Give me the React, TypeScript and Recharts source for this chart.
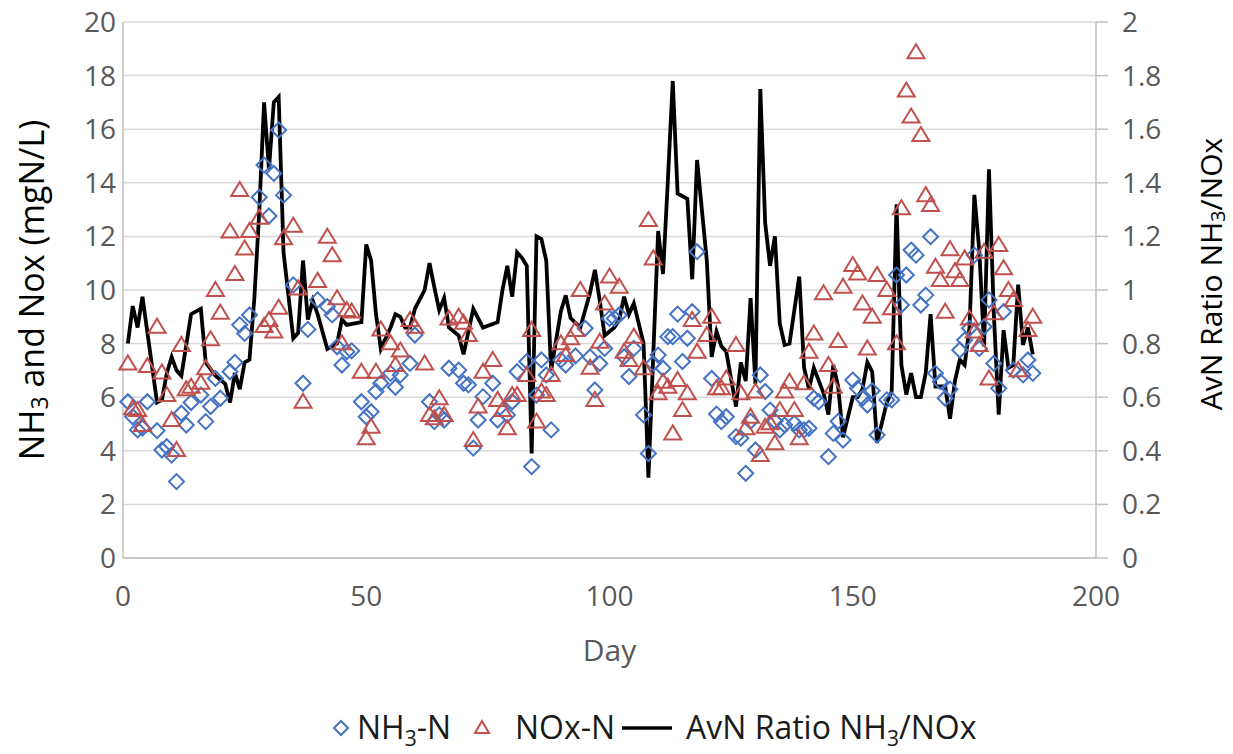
import React from 'react'
import { ComposedChart, Scatter, Line, XAxis, YAxis, CartesianGrid, Legend } from 'recharts'

// NH3-N (mgN/L)
const nh3Days = [
  1, 2, 3, 4, 5, 7, 8, 9, 10, 11, 12, 13, 14, 16, 17, 18, 19, 20, 22, 23, 24, 25, 26, 28, 29, 30, 31, 32, 33, 35,
  37, 38, 40, 42, 43, 44, 45, 46, 47, 49, 50, 51, 52, 53, 55, 56, 57, 59, 60, 63, 64, 65, 66, 67, 69, 70, 71, 72,
  73, 74, 76, 77, 79, 80, 81, 83, 84, 85, 86, 87, 88, 90, 91, 93, 95, 96, 97, 98, 99, 100, 101, 102, 103, 104, 105,
  107, 108, 109, 110, 111, 112, 113, 114, 115, 116, 117, 118, 121, 122, 123, 124, 126, 127, 128, 129, 130, 131, 132,
  133, 134, 135, 136, 138, 139, 140, 141, 142, 143, 145, 146, 147, 148, 150, 151, 152, 153, 154, 155, 157, 158, 159,
  160, 161, 162, 163, 164, 165, 166, 167, 168, 169, 170, 172, 173, 174, 175, 176, 177, 178, 179, 180, 181, 183, 185,
  186, 187,
]
const nh3Values = [
  5.83, 5.27, 4.78, 4.85, 5.83, 4.75, 4.03, 4.15, 3.84, 2.85, 5.4, 4.96, 5.8, 6.08, 5.09, 5.65, 6.7, 5.96, 6.95, 7.3,
  8.7, 8.38, 9.07, 13.46, 14.66, 12.76, 14.35, 15.97, 13.54, 10.19, 6.52, 8.53, 9.63, 9.38, 9.07, 7.88, 7.2, 7.7,
  7.73, 5.83, 5.27, 5.46, 6.21, 6.52, 6.89, 6.37, 6.83, 7.26, 8.32, 5.83, 5.09, 5.34, 5.15, 7.08, 7.01, 6.52, 6.46,
  4.1, 5.15, 6.02, 6.52, 5.15, 5.34, 5.83, 6.95, 7.33, 3.41, 6.08, 7.39, 6.83, 4.78, 7.39, 7.2, 7.54, 8.57, 7.5,
  6.27, 7.26, 7.82, 8.94, 8.94, 9.07, 7.51, 6.77, 7.82, 5.34, 3.9, 7.26, 7.57, 7.08, 8.26, 8.26, 9.1, 7.33, 8.2,
  9.19, 11.43, 6.7, 5.37, 5.09, 5.27, 4.53, 4.47, 3.16, 5.1, 4.03, 6.83, 6.21, 5.52, 5.1, 4.78, 4.96, 5.03, 4.78,
  4.78, 4.84, 5.96, 5.83, 3.78, 4.65, 5.1, 4.4, 6.64, 6.33, 5.96, 5.71, 6.24, 4.59, 5.9, 5.9, 10.56, 9.44, 10.56,
  11.49, 11.3, 9.44, 9.81, 11.99, 6.89, 6.58, 5.96, 6.3, 7.76, 8.13, 8.57, 11.3, 7.82, 8.63, 9.63, 7.26, 6.33, 9.19,
  7.01, 6.83, 7.39, 6.89,
]

// NOx-N (mgN/L)
const noxDays = [
  1, 2, 3, 4, 5, 7, 8, 9, 10, 11, 12, 13, 14, 16, 17, 18, 19, 20, 22, 23, 24, 25, 26, 28, 29, 30, 31, 32, 33, 35,
  36, 37, 40, 42, 43, 44, 45, 46, 47, 49, 50, 51, 52, 53, 55, 56, 57, 59, 60, 62, 63, 64, 65, 66, 67, 69, 70, 71,
  72, 73, 74, 76, 77, 78, 79, 80, 81, 83, 84, 85, 86, 87, 88, 90, 91, 92, 93, 94, 96, 97, 98, 99, 100, 102, 103,
  104, 105, 107, 108, 109, 110, 111, 112, 113, 114, 115, 116, 117, 118, 120, 121, 122, 123, 124, 126, 127, 128, 129,
  130, 131, 132, 133, 134, 135, 136, 137, 138, 139, 140, 141, 142, 144, 145, 146, 147, 148, 150, 151, 152, 153, 154,
  155, 157, 158, 159, 160, 161, 162, 163, 164, 165, 166, 167, 168, 169, 170, 171, 172, 173, 174, 175, 176, 177, 178,
  179, 180, 181, 182, 183, 184, 186, 187,
]
const noxValues = [
  7.26, 5.59, 5.52, 4.96, 7.16, 8.63, 6.92, 6.08, 5.15, 4.03, 7.95, 6.3, 6.39, 6.54, 7.08, 8.16, 10.0, 9.15, 12.18,
  10.6, 13.73, 11.55, 12.2, 12.7, 8.66, 8.88, 8.45, 9.34, 11.93, 12.4, 10.06, 5.83, 10.34, 11.99, 11.3, 9.69, 8.01,
  9.25, 9.2, 6.95, 4.47, 4.9, 6.95, 8.53, 8.01, 7.2, 7.74, 8.88, 8.63, 7.26, 5.34, 5.21, 5.96, 5.34, 8.94, 9.0, 8.78,
  8.32, 4.4, 5.65, 6.95, 7.39, 5.9, 5.52, 4.84, 6.08, 6.08, 6.83, 8.51, 5.09, 6.21, 6.08, 6.83, 8.01, 7.57, 8.2,
  8.51, 10.0, 7.1, 5.9, 8.07, 9.5, 10.5, 10.12, 7.7, 7.39, 8.26, 7.08, 12.61, 11.18, 6.15, 6.58, 6.39, 4.65, 6.64,
  5.52, 6.15, 8.88, 7.7, 8.32, 9.0, 6.33, 6.33, 6.7, 7.95, 6.15, 4.84, 5.27, 6.21, 3.84, 4.9, 5.03, 4.28, 5.52, 6.21,
  6.58, 5.52, 4.47, 6.52, 7.7, 8.38, 9.88, 7.2, 6.39, 8.1, 10.12, 10.93, 10.62, 9.5, 7.82, 9.0, 10.56, 10.0, 9.32,
  8.01, 13.05, 17.44, 16.47, 18.87, 15.78, 13.54, 13.17, 10.87, 10.37, 9.19, 11.52, 10.7, 10.37, 11.18, 8.94, 8.45,
  7.95, 11.43, 6.7, 9.13, 11.68, 10.81, 10.0, 9.63, 7.01, 8.51, 9.0,
]

// AvN Ratio NH3/NOx
const ratioDays = [
  1, 2, 3, 4, 7, 8, 9, 10, 11, 12, 14, 16, 17, 19, 21, 22, 23, 24, 25, 26, 27, 28, 29, 30, 31, 32, 33, 35, 36, 37,
  38, 39, 40, 42, 44, 45, 46, 49, 50, 51, 52, 53, 55, 56, 57, 58, 59, 60, 62, 63, 64, 65, 66, 67, 69, 70, 72, 74,
  77, 78, 79, 80, 81, 82, 83, 84, 85, 86, 87, 88, 90, 91, 92, 94, 96, 97, 98, 99, 101, 102, 103, 104, 105, 107, 108,
  110, 111, 112, 113, 114, 116, 117, 118, 120, 121, 122, 123, 124, 126, 127, 128, 129, 130, 131, 132, 133, 134, 135,
  136, 137, 139, 140, 141, 142, 144, 145, 146, 147, 148, 150, 151, 152, 153, 154, 155, 157, 158, 159, 160, 161, 162,
  163, 164, 165, 166, 167, 169, 170, 171, 172, 173, 174, 175, 176, 177, 178, 179, 180, 181, 182, 183, 184, 185, 186,
  187,
]
const ratioValues = [
  0.8, 0.94, 0.86, 0.975, 0.58, 0.59, 0.69, 0.75, 0.7, 0.68, 0.91, 0.93, 0.73, 0.68, 0.65, 0.58, 0.69, 0.63, 0.73,
  0.74, 0.97, 1.29, 1.7, 1.45, 1.7, 1.72, 1.14, 0.82, 0.84, 1.11, 0.89, 0.96, 0.91, 0.78, 0.8, 0.89, 0.87, 0.88,
  1.17, 1.11, 0.91, 0.78, 0.86, 0.91, 0.9, 0.86, 0.86, 0.93, 1.0, 1.1, 1.01, 0.925, 0.97, 0.86, 0.83, 0.76, 0.93,
  0.86, 0.88, 1.0, 1.09, 0.975, 1.14, 1.12, 1.09, 0.39, 1.2, 1.19, 1.11, 0.7, 0.92, 0.98, 0.895, 0.86, 0.99, 1.075,
  0.96, 0.83, 0.86, 0.89, 0.975, 0.91, 0.95, 0.8, 0.3, 1.22, 1.06, 1.41, 1.78, 1.36, 1.34, 1.04, 1.485, 1.11, 0.75,
  0.845, 0.79, 0.77, 0.565, 0.73, 0.66, 0.97, 0.65, 1.75, 1.25, 1.09, 1.2, 0.875, 0.795, 0.8, 1.05, 0.71, 0.63, 0.71,
  0.615, 0.535, 0.72, 0.64, 0.45, 0.6, 0.6, 0.63, 0.73, 0.695, 0.43, 0.58, 0.62, 1.32, 0.72, 0.61, 0.69, 0.6, 0.6,
  0.69, 0.91, 0.64, 0.64, 0.52, 0.66, 0.74, 0.72, 0.86, 1.355, 1.15, 0.79, 1.45, 0.91, 0.535, 0.85, 0.71, 0.72, 1.02,
  0.795, 0.86, 0.76,
]

const dayTicks = [0, 50, 100, 150, 200]
const concTicks = [0, 2, 4, 6, 8, 10, 12, 14, 16, 18, 20]
const ratioTicks = [0, 0.2, 0.4, 0.6, 0.8, 1, 1.2, 1.4, 1.6, 1.8, 2]

const FONT = '"Open Sans", sans-serif'
const BLUE = '#4472C4'
const RED = '#C0504D'
const GRAY_TEXT = '#595959'
const AXIS = '#BFBFBF'

const nh3Data = nh3Days.map((d, i) => ({ day: d, nh3: nh3Values[i] }))
const noxData = noxDays.map((d, i) => ({ day: d, nox: noxValues[i] }))
const ratioData = ratioDays.map((d, i) => ({ day: d, ratio: ratioValues[i] }))

const Diamond = ({ cx, cy }: any) => (
  <polygon
    points={`${cx},${cy - 7.5} ${cx + 7.5},${cy} ${cx},${cy + 7.5} ${cx - 7.5},${cy}`}
    fill="none"
    stroke={BLUE}
    strokeWidth={2}
  />
)

const Triangle = ({ cx, cy }: any) => (
  <polygon
    points={`${cx},${cy - 8} ${cx + 8.5},${cy + 6} ${cx - 8.5},${cy + 6}`}
    fill="none"
    stroke={RED}
    strokeWidth={2}
  />
)

const LeftTitle = ({ viewBox }: any) => {
  const x = viewBox.x + 31
  const y = viewBox.y + viewBox.height / 2
  return (
    <text
      x={x}
      y={y}
      transform={`rotate(-90, ${x}, ${y})`}
      textAnchor="middle"
      dominantBaseline="central"
      fontFamily={FONT}
      fontSize={34}
      fill="#000"
    >
      NH<tspan dy={8} fontSize={23}>3</tspan>
      <tspan dy={-8}> and Nox (mgN/L)</tspan>
    </text>
  )
}

const RightTitle = ({ viewBox }: any) => {
  const x = viewBox.x + 114
  const y = viewBox.y + viewBox.height / 2 - 16
  return (
    <text
      x={x}
      y={y}
      transform={`rotate(-90, ${x}, ${y})`}
      textAnchor="middle"
      dominantBaseline="central"
      fontFamily={FONT}
      fontSize={30}
      fill="#000"
    >
      AvN Ratio NH<tspan dy={7} fontSize={20}>3</tspan>
      <tspan dy={-7}>/NOx</tspan>
    </text>
  )
}

const DayTitle = ({ viewBox }: any) => (
  <text
    x={viewBox.x + viewBox.width / 2}
    y={viewBox.y + 103}
    textAnchor="middle"
    fontFamily={FONT}
    fontSize={30}
    fill={GRAY_TEXT}
  >
    Day
  </text>
)

// legend drawn by hand so the subscripts render
const renderLegend = () => (
  <svg width={1233} height={48}>
    <polygon points="341,15 348,22 341,29 334,22" fill="none" stroke={BLUE} strokeWidth={2} />
    <text x={357} y={33} fontFamily={FONT} fontSize={32} fill="#1a1a1a">
      NH<tspan dy={7} fontSize={21}>3</tspan>
      <tspan dy={-7}>-N</tspan>
    </text>
    <polygon points="482,15 489,27 475,27" fill="none" stroke={RED} strokeWidth={2} />
    <text x={515} y={33} fontFamily={FONT} fontSize={32} fill="#1a1a1a">
      NOx-N
    </text>
    <line x1={622} y1={22} x2={672} y2={22} stroke="#000" strokeWidth={3.5} />
    <text x={686} y={33} fontFamily={FONT} fontSize={32} fill="#1a1a1a">
      AvN Ratio NH<tspan dy={7} fontSize={21}>3</tspan>
      <tspan dy={-7}>/NOx</tspan>
    </text>
  </svg>
)

export default function App() {
  return (
    <div style={{ position: 'absolute', left: 0, top: 0, width: 1233, height: 754, background: '#fff' }}>
      <ComposedChart width={1233} height={754} margin={{ top: 22, right: 0, bottom: 86, left: 0 }}>
        <CartesianGrid yAxisId="left" vertical={false} stroke="#D9D9D9" strokeWidth={1.5} />
        <XAxis
          type="number"
          dataKey="day"
          domain={[0, 200]}
          ticks={dayTicks}
          interval={0}
          height={110}
          tickSize={0}
          tickMargin={28}
          tickLine={false}
          axisLine={{ stroke: AXIS, strokeWidth: 1.5 }}
          tick={{ fill: GRAY_TEXT, fontSize: 28, fontFamily: FONT }}
          label={<DayTitle />}
        />
        <YAxis
          yAxisId="left"
          domain={[0, 20]}
          ticks={concTicks}
          interval={0}
          width={123}
          tickSize={0}
          tickMargin={7}
          tickLine={false}
          axisLine={{ stroke: AXIS, strokeWidth: 1.5 }}
          tick={{ fill: GRAY_TEXT, fontSize: 28, fontFamily: FONT }}
          label={<LeftTitle />}
        />
        <YAxis
          yAxisId="right"
          orientation="right"
          domain={[0, 2]}
          ticks={ratioTicks}
          interval={0}
          width={137}
          tickSize={12}
          tickMargin={14}
          tickLine={{ stroke: AXIS, strokeWidth: 1.5 }}
          axisLine={{ stroke: AXIS, strokeWidth: 1.5 }}
          tick={{ fill: GRAY_TEXT, fontSize: 28, fontFamily: FONT }}
          tickFormatter={(v: number) => String(v)}
          label={<RightTitle />}
        />
        <Scatter yAxisId="left" name="NH3-N" data={nh3Data} dataKey="nh3" shape={Diamond} isAnimationActive={false} />
        <Scatter yAxisId="left" name="NOx-N" data={noxData} dataKey="nox" shape={Triangle} isAnimationActive={false} />
        <Line
          yAxisId="right"
          name="AvN Ratio NH3/NOx"
          data={ratioData}
          dataKey="ratio"
          type="linear"
          stroke="#000"
          strokeWidth={3.8}
          strokeLinejoin="miter"
          dot={false}
          activeDot={false}
          isAnimationActive={false}
        />
        <Legend
          layout="horizontal"
          verticalAlign="middle"
          content={renderLegend}
          wrapperStyle={{ top: 706, left: 0, width: 1233, height: 48 }}
        />
      </ComposedChart>
    </div>
  )
}
